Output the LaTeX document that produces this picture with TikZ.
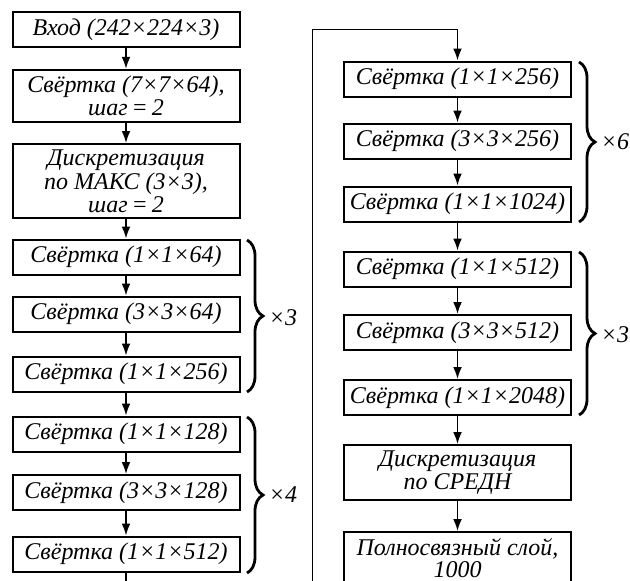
\documentclass[tikz,border=0pt]{standalone}
\usepackage{fontspec}
\setmainfont{Liberation Serif}
\usetikzlibrary{arrows.meta,decorations.pathreplacing}

\begin{document}
\begin{tikzpicture}[x=0.5pt,y=-0.5pt,
    blk/.style={draw=black,line width=1pt,minimum width=113.5pt,minimum height=17.5pt,
      inner sep=1pt,align=center,font=\fontsize{12}{8.8}\selectfont\itshape},
    arr/.style={line width=0.8pt,-{Latex[length=6pt,width=4.4pt]}},
    brc/.style={decorate,decoration={brace,amplitude=8pt},line width=1.4pt},
    rep/.style={font=\fontsize{12}{12}\selectfont\itshape}]
    \useasboundingbox (0,0) rectangle (630,580);
    \clip (0,0) rectangle (630,580);

    % left column
    \node[blk] (inp) at (126,29.7) {Вход (242×224×3)};
    \node[blk,minimum height=26pt] (c7) at (126,95.8) {Свёртка (7×7×64),\\шаг\,=\,2};
    \node[blk,minimum height=37pt] (mp) at (126,181) {Дискретизация\\по МАКС (3×3),\\шаг\,=\,2};
    \node[blk] (a1) at (126,257) {Свёртка (1×1×64)};
    \node[blk] (a2) at (126,314) {Свёртка (3×3×64)};
    \node[blk] (a3) at (126,374) {Свёртка (1×1×256)};
    \node[blk] (b1) at (126,434) {Свёртка (1×1×128)};
    \node[blk] (b2) at (126,492.5) {Свёртка (3×3×128)};
    \node[blk] (b3) at (126,554) {Свёртка (1×1×512)};
    \coordinate (lend) at (126,600);

    % right column
    \node[blk] (c1) at (457.5,79) {Свёртка (1×1×256)};
    \node[blk] (c2) at (457.5,141) {Свёртка (3×3×256)};
    \node[blk] (c3) at (457.5,204) {Свёртка (1×1×1024)};
    \node[blk] (d1) at (457.5,269) {Свёртка (1×1×512)};
    \node[blk] (d2) at (457.5,332.5) {Свёртка (3×3×512)};
    \node[blk] (d3) at (457.5,397.5) {Свёртка (1×1×2048)};
    \node[blk,minimum height=27.5pt] (ap) at (457.5,472.5) {Дискретизация\\по СРЕДН};
    \node[blk,minimum height=26pt] (fc) at (457.5,558) {Полносвязный слой,\\1000};
    \coordinate (rbot) at (312.5,600);
    \coordinate (rtop) at (457.5,29.5);

    \path [arr] (inp) edge (c7);
    \path [arr] (c7) edge (mp);
    \path [arr] (mp) edge (a1);
    \path [arr] (a1) edge (a2);
    \path [arr] (a2) edge (a3);
    \path [arr] (a3) edge (b1);
    \path [arr] (b1) edge (b2);
    \path [arr] (b2) edge (b3);
    \draw [line width=0.8pt] (b3) -- (lend);

    \draw [line width=0.6pt] (rbot) |- (rtop);
    \path [arr] (rtop) edge (c1);
    \path [arr] (c1) edge (c2);
    \path [arr] (c2) edge (c3);
    \path [arr] (c3) edge (d1);
    \path [arr] (d1) edge (d2);
    \path [arr] (d2) edge (d3);
    \path [arr] (d3) edge (ap);
    \path [arr] (ap) edge (fc);

    % braces
    \draw [brc] (247,240) -- (247,392);
    \draw [brc] (247,417) -- (247,573);
    \draw [brc] (579,62) -- (579,222);
    \draw [brc] (579,252) -- (579,415);
    \node[rep] (x3a) at (283,318) {×3};
    \node[rep] (x4) at (283,495) {×4};
    \node[rep] (x6) at (615,142) {×6};
    \node[rep] (x3b) at (615,335) {×3};
\end{tikzpicture}
\end{document}
